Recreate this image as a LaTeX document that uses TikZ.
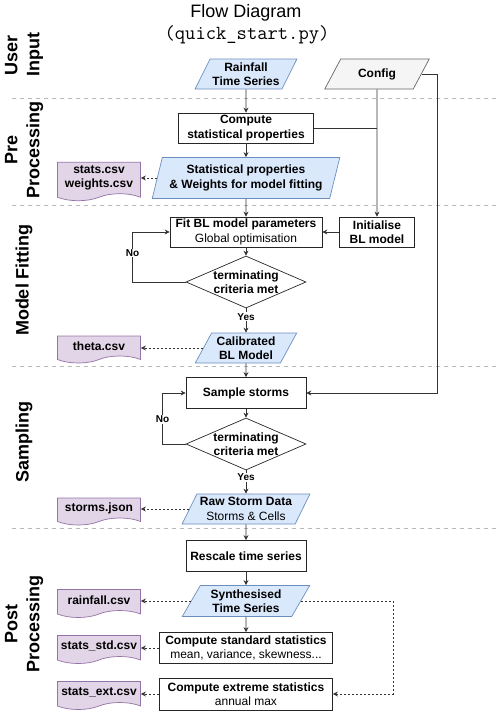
\documentclass[tikz,border=0pt]{standalone}
\usepackage{fontspec}
\setmainfont{Liberation Sans}
\usetikzlibrary{positioning,arrows.meta,shapes.geometric,shapes.symbols}
\definecolor{inblue}{HTML}{DAE8FC}
\definecolor{inbluedraw}{HTML}{6C8EBF}
\definecolor{cfggray}{HTML}{F5F5F5}
\definecolor{cfgdraw}{HTML}{666666}
\definecolor{docfill}{HTML}{E1D5E7}
\definecolor{docdraw}{HTML}{9673A6}

\begin{document}
\begin{tikzpicture}[x=1pt, y=-1pt,
      font=\fontsize{12}{14.4}\selectfont,
      box/.style={draw=black!85, line width=0.7pt, align=center, inner sep=2pt,
                  minimum height=30pt},                                        % process step
      io/.style={trapezium, trapezium left angle=65, trapezium right angle=115,
                 trapezium stretches=true, draw=inbluedraw, fill=inblue, line width=0.7pt,
                 align=center, inner xsep=0pt, minimum height=30pt},           % data in / out
      crit/.style={diamond, draw=black!85, line width=0.7pt, aspect=2.3, inner sep=-1pt,
                   minimum width=120pt, minimum height=52pt, align=center},    % decision
      doc/.style={tape, tape bend top=none, tape bend bottom=in and out, tape bend height=7pt,
                  draw=docdraw, fill=docfill, line width=0.7pt, align=center,
                  minimum width=83pt, font=\bfseries\fontsize{12}{14.4}\selectfont}, % output file
      lane/.style={rotate=90, align=center, font=\bfseries\fontsize{18}{22}\selectfont},
      sep/.style={draw=gray!55, dashed, dash pattern=on 4pt off 4pt, line width=0.8pt},
      arr/.style={-{Stealth[length=5pt,width=5pt]}, draw=black!80, line width=0.7pt},
      darr/.style={arr, dashed, dash pattern=on 2pt off 2pt},
      lbl/.style={fill=white, inner sep=1pt, font=\bfseries\fontsize{10}{12}\selectfont}]
    \useasboundingbox (0,0) rectangle (500,715);

    % title
    \node (title) at (246,13) {\fontsize{18}{21}\selectfont Flow Diagram};
    \node (script) at (247,35) {\ttfamily\fontsize{20}{23}\selectfont (quick\_start.py)};

    % lanes
    \foreach \y in {98,205,366,528}
      \draw[sep] (12,\y) -- (500,\y);
    \node[lane] (lnuser) at (24,55)  {User\\Input};
    \node[lane] (lnpre)  at (24,150) {Pre\\Processing};
    \node[lane] (lnfit)  at (24,280) {Model Fitting};
    \node[lane] (lnsmp)  at (24,442) {Sampling};
    \node[lane] (lnpost) at (24,624) {Post\\Processing};

    % user input
    \node[io, minimum width=102pt] (rain) at (246,74) {\bfseries Rainfall\\\bfseries Time Series};
    \node[io, minimum width=105pt, draw=cfgdraw, fill=cfggray] (config) at (377,74) {\bfseries Config};

    % pre processing
    \node[box, minimum width=135pt] (comp) at (246,128) {\bfseries Compute\\\bfseries statistical properties};
    \node[io, minimum width=188pt, minimum height=41pt, trapezium left angle=74,
          trapezium right angle=106] (statp) at (246,178)
          {\bfseries Statistical properties\\\bfseries \& Weights for model fitting};
    \node[doc, minimum height=38pt] (statsdoc) at (99,178) {stats.csv\\weights.csv};

    % model fitting
    \node[box, minimum width=152pt] (fit) at (246,232) {\bfseries Fit BL model parameters\\Global optimisation};
    \node[box, minimum width=75pt] (init) at (377,232) {\bfseries Initialise\\\bfseries BL model};
    \node[crit] (crit1) at (246,282) {\bfseries terminating\\\bfseries criteria met};
    \node[io, minimum width=102pt] (calib) at (246,348) {\bfseries Calibrated\\\bfseries BL Model};
    \node[doc, minimum height=27pt] (thetadoc) at (99,346) {theta.csv};

    % sampling
    \node[box, minimum width=120pt, minimum height=31pt] (sample) at (246,393) {\bfseries Sample storms};
    \node[crit] (crit2) at (246,444) {\bfseries terminating\\\bfseries criteria met};
    \node[io, minimum width=128pt] (raw) at (246,509) {\bfseries Raw Storm Data\\Storms \& Cells};
    \node[doc, minimum height=27pt] (stormdoc) at (99,508) {storms.json};

    % post processing
    \node[box, minimum width=120pt, minimum height=31pt] (rescale) at (246,556) {\bfseries Rescale time series};
    \node[io, minimum width=128pt, minimum height=31pt] (synth) at (246,601) {\bfseries Synthesised\\\bfseries Time Series};
    \node[doc, minimum height=28pt] (raindoc) at (99,600) {rainfall.csv};
    \node[box, minimum width=173pt, minimum height=31pt] (std) at (246,648)
          {\bfseries Compute standard statistics\\mean, variance, skewness...};
    \node[doc, minimum height=28pt] (stddoc) at (99,646) {stats\_std.csv};
    \node[box, minimum width=173pt, minimum height=32pt] (ext) at (246,694)
          {\bfseries Compute extreme statistics\\annual max};
    \node[doc, minimum height=28pt] (extdoc) at (99,692) {stats\_ext.csv};

    % main chain
    \foreach \a/\b in {rain/comp, comp/statp, statp/fit, fit/crit1, calib/sample,
                       sample/crit2, raw/rescale, rescale/synth, synth/std}
      \draw[arr] (\a) -- (\b);
    \draw[arr] (crit1) -- node[lbl, pos=0.35] {Yes} (calib);
    \draw[arr] (crit2) -- node[lbl, pos=0.3] {Yes} (raw);
    \draw[arr] (crit1.west) -- ++(-53,0) |- node[lbl, pos=0.29] {No} (fit.west);
    \draw[arr] (crit2.west) -- ++(-23,0) |- node[lbl, pos=0.24] {No} (sample.west);

    % config feeds
    \draw[arr] (config.south) -- (init.north);
    \draw[draw=black!80, line width=0.7pt] (comp.east) -- (comp.east -| config.south);
    \draw[arr] (init.west) -- (fit.east);
    \draw[arr] (config.east) -- ++(16,0) |- (sample.east);

    % written files
    \foreach \a/\b in {statp/statsdoc, calib/thetadoc, raw/stormdoc, synth/raindoc,
                       std/stddoc, ext/extdoc}
      \draw[darr] (\a.west) -- (\a.west -| \b.east);
    \draw[darr] (synth.east) -- ++(92,0) |- (ext.east);
  \end{tikzpicture}
\end{document}
